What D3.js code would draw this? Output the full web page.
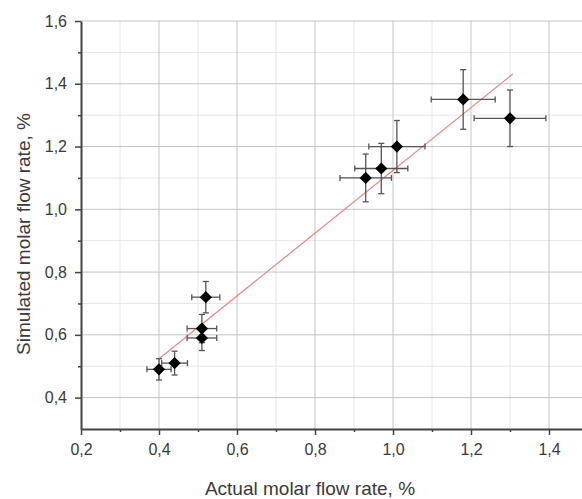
<!DOCTYPE html>
<html>
<head>
<meta charset="utf-8">
<script src="https://cdn.jsdelivr.net/npm/d3@7"></script>
<style>
  body { margin: 0; background: #fff; }
  svg { display: block; font-family: "Liberation Sans", Arial, sans-serif; }
</style>
</head>
<body>
<div id="chart"></div>
<script>
// Data
const actual    = [0.40, 0.44, 0.51, 0.51, 0.52, 0.93, 0.97, 1.01, 1.18, 1.30];
const simulated = [0.49, 0.51, 0.59, 0.62, 0.72, 1.10, 1.13, 1.20, 1.35, 1.29];
const actualErr    = [0.031, 0.033, 0.038, 0.038, 0.036, 0.066, 0.068, 0.072, 0.082, 0.092];
const simulatedErr = [0.034, 0.038, 0.040, 0.045, 0.050, 0.076, 0.080, 0.083, 0.095, 0.090];

// fitted line end points
const fitX = [0.40, 1.307];
const fitY = [0.524, 1.431];

const xTicks = [0.2, 0.4, 0.6, 0.8, 1.0, 1.2, 1.4];
const yTicks = [0.4, 0.6, 0.8, 1.0, 1.2, 1.4, 1.6];
const xMinor = [0.3, 0.5, 0.7, 0.9, 1.1, 1.3];
const yMinor = [0.5, 0.7, 0.9, 1.1, 1.3, 1.5];

const width = 582,
    height = 499;

const margin = { top: 21, right: 0, bottom: 70, left: 81 };

const svg = d3.select("#chart")
    .append("svg")
    .attr("width", width)
    .attr("height", height);

const xScale = d3.scaleLinear()
    .domain([0.2, 1.5])
    .range([margin.left, margin.left + 1.3 / 0.2 * 78]);

const yScale = d3.scaleLinear()
    .domain([0.3, 1.6])
    .range([height - margin.bottom, margin.top]);

const fmt = v => d3.format(".1f")(v).replace(".", ",");

const x0 = margin.left, x1 = width;
const y0 = yScale(0.3), y1 = yScale(1.6);

// grid
svg.append("g").selectAll("line")
    .data(xMinor)
    .join("line")
    .attr("x1", d => xScale(d)).attr("x2", d => xScale(d))
    .attr("y1", y0).attr("y2", y1)
    .attr("stroke", "#e6e6e6");

svg.append("g").selectAll("line")
    .data(yMinor)
    .join("line")
    .attr("x1", x0).attr("x2", x1)
    .attr("y1", d => yScale(d)).attr("y2", d => yScale(d))
    .attr("stroke", "#e6e6e6");

svg.append("g").selectAll("line")
    .data(xTicks.slice(1))
    .join("line")
    .attr("x1", d => xScale(d)).attr("x2", d => xScale(d))
    .attr("y1", y0).attr("y2", y1)
    .attr("stroke", "#c4c4c4");

svg.append("g").selectAll("line")
    .data(yTicks)
    .join("line")
    .attr("x1", x0).attr("x2", x1)
    .attr("y1", d => yScale(d)).attr("y2", d => yScale(d))
    .attr("stroke", "#c4c4c4");

// axes
svg.append("g")
    .attr("transform", `translate(0, ${y0})`)
    .call(d3.axisBottom(xScale).tickValues(xTicks).tickFormat(fmt).tickSize(6).tickSizeOuter(0).tickPadding(9));

svg.append("g")
    .attr("transform", `translate(0, ${y0})`)
    .call(d3.axisBottom(xScale).tickValues(xMinor).tickFormat("").tickSize(3).tickSizeOuter(0))
    .select(".domain").remove();

svg.append("g")
    .attr("transform", `translate(${x0}, 0)`)
    .call(d3.axisLeft(yScale).tickValues(yTicks).tickFormat(fmt).tickSize(6).tickSizeOuter(0).tickPadding(8));

svg.append("g")
    .attr("transform", `translate(${x0}, 0)`)
    .call(d3.axisLeft(yScale).tickValues(yMinor).tickFormat("").tickSize(3).tickSizeOuter(0))
    .select(".domain").remove();

svg.selectAll(".domain").attr("stroke", "#444").attr("stroke-width", 2);
svg.selectAll(".tick line").attr("stroke", "#444").attr("stroke-width", 1.5);
svg.selectAll(".tick text")
    .attr("fill", "#3a3a3a")
    .style("font-size", "16px");

// fitted line
svg.append("line")
    .attr("x1", xScale(fitX[0])).attr("y1", yScale(fitY[0]))
    .attr("x2", xScale(fitX[1])).attr("y2", yScale(fitY[1]))
    .attr("stroke", "#ec8a8a")
    .attr("stroke-width", 1.3);

// error bars
const pts = actual.map((a, i) => ({ x: a, y: simulated[i], ex: actualErr[i], ey: simulatedErr[i] }));
const cap = 3;
const err = svg.append("g").attr("stroke", "#555").attr("stroke-width", 1.3);

pts.forEach(p => {
    const cx = xScale(p.x), cy = yScale(p.y);
    const xl = xScale(p.x - p.ex), xr = xScale(p.x + p.ex);
    const yt = yScale(p.y + p.ey), yb = yScale(p.y - p.ey);
    err.append("line").attr("x1", xl).attr("x2", xr).attr("y1", cy).attr("y2", cy);
    err.append("line").attr("x1", xl).attr("x2", xl).attr("y1", cy - cap).attr("y2", cy + cap);
    err.append("line").attr("x1", xr).attr("x2", xr).attr("y1", cy - cap).attr("y2", cy + cap);
    err.append("line").attr("x1", cx).attr("x2", cx).attr("y1", yt).attr("y2", yb);
    err.append("line").attr("x1", cx - cap).attr("x2", cx + cap).attr("y1", yt).attr("y2", yt);
    err.append("line").attr("x1", cx - cap).attr("x2", cx + cap).attr("y1", yb).attr("y2", yb);
});

// diamond markers
svg.append("g").selectAll("path")
    .data(pts)
    .join("path")
    .attr("d", d3.symbol(d3.symbolDiamond2, 95))
    .attr("transform", d => `translate(${xScale(d.x)}, ${yScale(d.y)})`)
    .attr("fill", "#000");

// axis labels
svg.append("text")
    .attr("x", 310)
    .attr("y", 495)
    .text("Actual molar flow rate, %")
    .attr("fill", "#3a3a3a")
    .style("font-size", "19px")
    .style("text-anchor", "middle");

svg.append("text")
    .attr("x", -234)
    .attr("y", 30)
    .text("Simulated molar flow rate, %")
    .attr("fill", "#3a3a3a")
    .style("font-size", "19px")
    .style("text-anchor", "middle")
    .attr("transform", "rotate(-90)");
</script>
</body>
</html>
